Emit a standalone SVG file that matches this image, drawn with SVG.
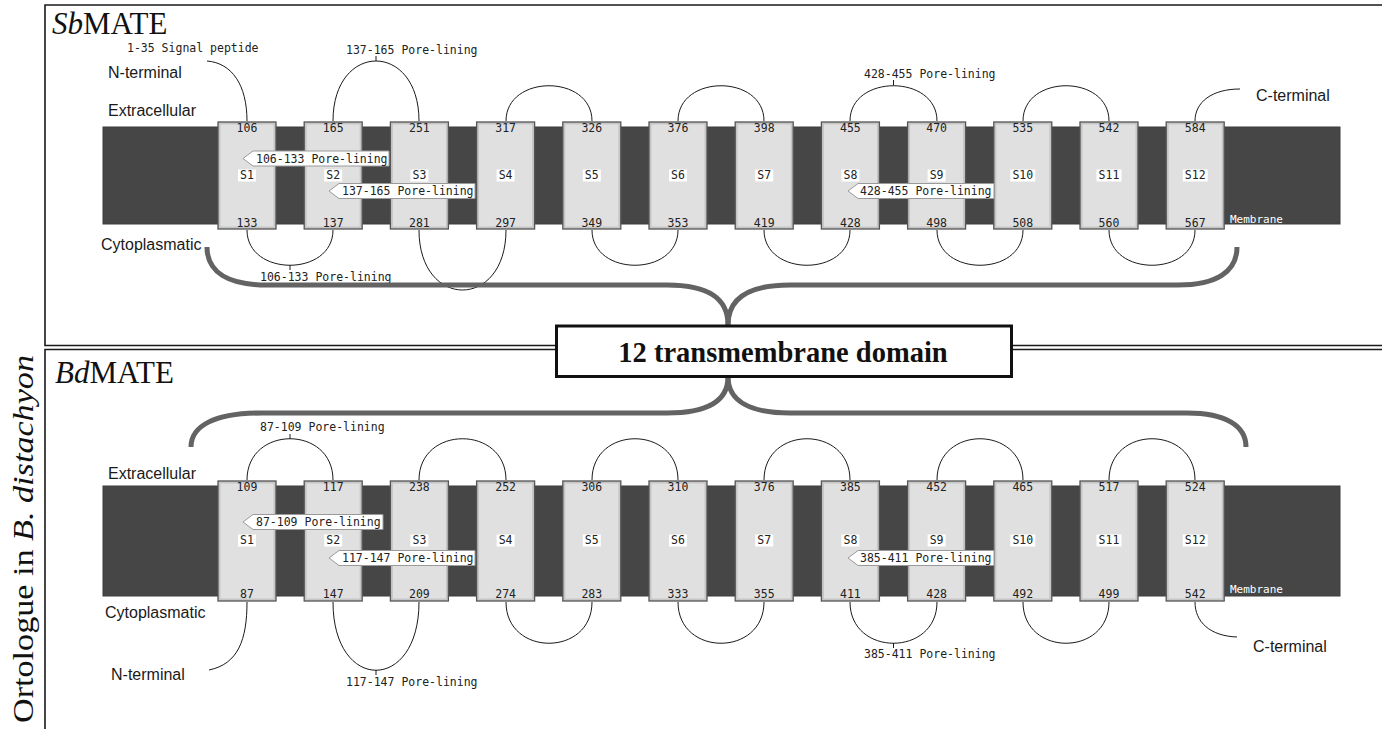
<svg xmlns="http://www.w3.org/2000/svg" width="1382" height="729" viewBox="0 0 1382 729">
<style>
.mono{font-family:"DejaVu Sans Mono","Liberation Mono",monospace;font-size:11.5px;fill:#222}
.num{text-anchor:middle}
.sans{font-family:"Liberation Sans",Arial,sans-serif;font-size:16px;fill:#1a1a1a}
.serif{font-family:"Liberation Serif","Times New Roman",serif;fill:#111}
.loop{fill:none;stroke:#1a1a1a;stroke-width:1}
.brace{fill:none;stroke:#636363;stroke-width:5}
.mem{fill:#464646;stroke:#3c3c3c;stroke-width:1}
.tmo{fill:#c6c6c6;stroke:#555;stroke-width:1.3}
.tmi{fill:#e0e0e0}
.flag{fill:#fff;stroke:#9a9a9a;stroke-width:1}
.slab{fill:#fff}
.frame{stroke:#1a1a1a;stroke-width:1.6;fill:none}
.memlab{font-family:"DejaVu Sans Mono","Liberation Mono",monospace;font-size:11px;fill:#fff}
</style>
<rect width="1382" height="729" fill="#fff"/>

<g id="frames">
<path class="frame" d="M1382,5 H45 V345.5 H1382"/>
<path class="frame" d="M1382,349.5 H45 V729"/>
</g>

<g id="titles">
<text class="serif" x="52" y="34" font-size="31"><tspan font-style="italic">Sb</tspan>MATE</text>
<text class="serif" x="55" y="383" font-size="31"><tspan font-style="italic">Bd</tspan>MATE</text>
<text class="serif" font-size="29" transform="translate(33,723) rotate(-90)" textLength="368" lengthAdjust="spacingAndGlyphs">Ortologue in <tspan font-style="italic">B. distachyon</tspan></text>
</g>

<!-- Top panel membrane -->
<g id="sb-membrane">
<rect class="mem" x="103" y="127" width="1237" height="97"/>
<text class="memlab" x="1230" y="222.5">Membrane</text>
</g>

<!-- Bottom panel membrane -->
<g id="bd-membrane">
<rect class="mem" x="103" y="486" width="1237" height="110"/>
<text class="memlab" x="1230" y="593">Membrane</text>
</g>

<!-- connectors: loops -->
<g id="connectors">
<!-- Sb extracellular -->
<path class="loop" d="M207,61 C232,63 247,85 247,121"/>
<path class="loop" d="M333,121 C333,41 419,41 419,121"/>
<path class="loop" d="M376,61 V56"/>
<path class="loop" d="M506,121 C506,74 592,74 592,121"/>
<path class="loop" d="M678,121 C678,74 764,74 764,121"/>
<path class="loop" d="M850,121 C850,74 937,74 937,121"/>
<path class="loop" d="M893.5,85.5 V80"/>
<path class="loop" d="M1023,121 C1023,74 1109,74 1109,121"/>
<path class="loop" d="M1195,121 C1195,102 1212,89 1240,89"/>
<!-- Sb cytoplasmic -->
<path class="loop" d="M247,230 C247,277 333,277 333,230"/>
<path class="loop" d="M290,265 V270"/>
<path class="loop" d="M419,230 C419,310 506,310 506,230"/>
<path class="loop" d="M592,230 C592,277 678,277 678,230"/>
<path class="loop" d="M764,230 C764,277 850,277 850,230"/>
<path class="loop" d="M937,230 C937,277 1023,277 1023,230"/>
<path class="loop" d="M1109,230 C1109,277 1195,277 1195,230"/>
<!-- Bd extracellular -->
<path class="loop" d="M247,480 C247,425 333,425 333,480"/>
<path class="loop" d="M290,439 V434"/>
<path class="loop" d="M419,480 C419,425 506,425 506,480"/>
<path class="loop" d="M592,480 C592,425 678,425 678,480"/>
<path class="loop" d="M764,480 C764,425 850,425 850,480"/>
<path class="loop" d="M937,480 C937,425 1023,425 1023,480"/>
<path class="loop" d="M1109,480 C1109,425 1195,425 1195,480"/>
<!-- Bd cytoplasmic -->
<path class="loop" d="M247,602 C247,640 238,664 209,670"/>
<path class="loop" d="M333,602 C333,693 419,693 419,602"/>
<path class="loop" d="M376,670 V675"/>
<path class="loop" d="M506,602 C506,657 592,657 592,602"/>
<path class="loop" d="M678,602 C678,657 764,657 764,602"/>
<path class="loop" d="M850,602 C850,657 937,657 937,602"/>
<path class="loop" d="M893.5,643 V648"/>
<path class="loop" d="M1023,602 C1023,657 1109,657 1109,602"/>
<path class="loop" d="M1195,602 C1195,622 1210,636 1237,637"/>
</g>

<!-- Sb TM segments -->
<g id="sb-S1"><rect class="tmo" x="218" y="122" width="58" height="107"/><rect class="tmi" x="220.5" y="124.5" width="53" height="102"/><rect class="slab" x="238" y="169.5" width="18" height="12"/><text class="mono num" x="247" y="179">S1</text><text class="mono num" x="247" y="132">106</text><text class="mono num" x="247" y="227">133</text></g>
<g id="sb-S2"><rect class="tmo" x="304.2" y="122" width="58" height="107"/><rect class="tmi" x="306.7" y="124.5" width="53" height="102"/><rect class="slab" x="324.2" y="169.5" width="18" height="12"/><text class="mono num" x="333.2" y="179">S2</text><text class="mono num" x="333.2" y="132">165</text><text class="mono num" x="333.2" y="227">137</text></g>
<g id="sb-S3"><rect class="tmo" x="390.4" y="122" width="58" height="107"/><rect class="tmi" x="392.9" y="124.5" width="53" height="102"/><rect class="slab" x="410.4" y="169.5" width="18" height="12"/><text class="mono num" x="419.4" y="179">S3</text><text class="mono num" x="419.4" y="132">251</text><text class="mono num" x="419.4" y="227">281</text></g>
<g id="sb-S4"><rect class="tmo" x="476.6" y="122" width="58" height="107"/><rect class="tmi" x="479.1" y="124.5" width="53" height="102"/><rect class="slab" x="496.6" y="169.5" width="18" height="12"/><text class="mono num" x="505.6" y="179">S4</text><text class="mono num" x="505.6" y="132">317</text><text class="mono num" x="505.6" y="227">297</text></g>
<g id="sb-S5"><rect class="tmo" x="562.8" y="122" width="58" height="107"/><rect class="tmi" x="565.3" y="124.5" width="53" height="102"/><rect class="slab" x="582.8" y="169.5" width="18" height="12"/><text class="mono num" x="591.8" y="179">S5</text><text class="mono num" x="591.8" y="132">326</text><text class="mono num" x="591.8" y="227">349</text></g>
<g id="sb-S6"><rect class="tmo" x="649" y="122" width="58" height="107"/><rect class="tmi" x="651.5" y="124.5" width="53" height="102"/><rect class="slab" x="669" y="169.5" width="18" height="12"/><text class="mono num" x="678" y="179">S6</text><text class="mono num" x="678" y="132">376</text><text class="mono num" x="678" y="227">353</text></g>
<g id="sb-S7"><rect class="tmo" x="735.2" y="122" width="58" height="107"/><rect class="tmi" x="737.7" y="124.5" width="53" height="102"/><rect class="slab" x="755.2" y="169.5" width="18" height="12"/><text class="mono num" x="764.2" y="179">S7</text><text class="mono num" x="764.2" y="132">398</text><text class="mono num" x="764.2" y="227">419</text></g>
<g id="sb-S8"><rect class="tmo" x="821.4" y="122" width="58" height="107"/><rect class="tmi" x="823.9" y="124.5" width="53" height="102"/><rect class="slab" x="841.4" y="169.5" width="18" height="12"/><text class="mono num" x="850.4" y="179">S8</text><text class="mono num" x="850.4" y="132">455</text><text class="mono num" x="850.4" y="227">428</text></g>
<g id="sb-S9"><rect class="tmo" x="907.6" y="122" width="58" height="107"/><rect class="tmi" x="910.1" y="124.5" width="53" height="102"/><rect class="slab" x="927.6" y="169.5" width="18" height="12"/><text class="mono num" x="936.6" y="179">S9</text><text class="mono num" x="936.6" y="132">470</text><text class="mono num" x="936.6" y="227">498</text></g>
<g id="sb-S10"><rect class="tmo" x="993.8" y="122" width="58" height="107"/><rect class="tmi" x="996.3" y="124.5" width="53" height="102"/><rect class="slab" x="1010.3" y="169.5" width="25" height="12"/><text class="mono num" x="1022.8" y="179">S10</text><text class="mono num" x="1022.8" y="132">535</text><text class="mono num" x="1022.8" y="227">508</text></g>
<g id="sb-S11"><rect class="tmo" x="1080" y="122" width="58" height="107"/><rect class="tmi" x="1082.5" y="124.5" width="53" height="102"/><rect class="slab" x="1096.5" y="169.5" width="25" height="12"/><text class="mono num" x="1109" y="179">S11</text><text class="mono num" x="1109" y="132">542</text><text class="mono num" x="1109" y="227">560</text></g>
<g id="sb-S12"><rect class="tmo" x="1166.2" y="122" width="58" height="107"/><rect class="tmi" x="1168.7" y="124.5" width="53" height="102"/><rect class="slab" x="1182.7" y="169.5" width="25" height="12"/><text class="mono num" x="1195.2" y="179">S12</text><text class="mono num" x="1195.2" y="132">584</text><text class="mono num" x="1195.2" y="227">567</text></g>

<!-- Bd TM segments -->
<g id="bd-S1"><rect class="tmo" x="218" y="481" width="58" height="120"/><rect class="tmi" x="220.5" y="483.5" width="53" height="115"/><rect class="slab" x="238" y="534.5" width="18" height="12"/><text class="mono num" x="247" y="544">S1</text><text class="mono num" x="247" y="491">109</text><text class="mono num" x="247" y="598">87</text></g>
<g id="bd-S2"><rect class="tmo" x="304.2" y="481" width="58" height="120"/><rect class="tmi" x="306.7" y="483.5" width="53" height="115"/><rect class="slab" x="324.2" y="534.5" width="18" height="12"/><text class="mono num" x="333.2" y="544">S2</text><text class="mono num" x="333.2" y="491">117</text><text class="mono num" x="333.2" y="598">147</text></g>
<g id="bd-S3"><rect class="tmo" x="390.4" y="481" width="58" height="120"/><rect class="tmi" x="392.9" y="483.5" width="53" height="115"/><rect class="slab" x="410.4" y="534.5" width="18" height="12"/><text class="mono num" x="419.4" y="544">S3</text><text class="mono num" x="419.4" y="491">238</text><text class="mono num" x="419.4" y="598">209</text></g>
<g id="bd-S4"><rect class="tmo" x="476.6" y="481" width="58" height="120"/><rect class="tmi" x="479.1" y="483.5" width="53" height="115"/><rect class="slab" x="496.6" y="534.5" width="18" height="12"/><text class="mono num" x="505.6" y="544">S4</text><text class="mono num" x="505.6" y="491">252</text><text class="mono num" x="505.6" y="598">274</text></g>
<g id="bd-S5"><rect class="tmo" x="562.8" y="481" width="58" height="120"/><rect class="tmi" x="565.3" y="483.5" width="53" height="115"/><rect class="slab" x="582.8" y="534.5" width="18" height="12"/><text class="mono num" x="591.8" y="544">S5</text><text class="mono num" x="591.8" y="491">306</text><text class="mono num" x="591.8" y="598">283</text></g>
<g id="bd-S6"><rect class="tmo" x="649" y="481" width="58" height="120"/><rect class="tmi" x="651.5" y="483.5" width="53" height="115"/><rect class="slab" x="669" y="534.5" width="18" height="12"/><text class="mono num" x="678" y="544">S6</text><text class="mono num" x="678" y="491">310</text><text class="mono num" x="678" y="598">333</text></g>
<g id="bd-S7"><rect class="tmo" x="735.2" y="481" width="58" height="120"/><rect class="tmi" x="737.7" y="483.5" width="53" height="115"/><rect class="slab" x="755.2" y="534.5" width="18" height="12"/><text class="mono num" x="764.2" y="544">S7</text><text class="mono num" x="764.2" y="491">376</text><text class="mono num" x="764.2" y="598">355</text></g>
<g id="bd-S8"><rect class="tmo" x="821.4" y="481" width="58" height="120"/><rect class="tmi" x="823.9" y="483.5" width="53" height="115"/><rect class="slab" x="841.4" y="534.5" width="18" height="12"/><text class="mono num" x="850.4" y="544">S8</text><text class="mono num" x="850.4" y="491">385</text><text class="mono num" x="850.4" y="598">411</text></g>
<g id="bd-S9"><rect class="tmo" x="907.6" y="481" width="58" height="120"/><rect class="tmi" x="910.1" y="483.5" width="53" height="115"/><rect class="slab" x="927.6" y="534.5" width="18" height="12"/><text class="mono num" x="936.6" y="544">S9</text><text class="mono num" x="936.6" y="491">452</text><text class="mono num" x="936.6" y="598">428</text></g>
<g id="bd-S10"><rect class="tmo" x="993.8" y="481" width="58" height="120"/><rect class="tmi" x="996.3" y="483.5" width="53" height="115"/><rect class="slab" x="1010.3" y="534.5" width="25" height="12"/><text class="mono num" x="1022.8" y="544">S10</text><text class="mono num" x="1022.8" y="491">465</text><text class="mono num" x="1022.8" y="598">492</text></g>
<g id="bd-S11"><rect class="tmo" x="1080" y="481" width="58" height="120"/><rect class="tmi" x="1082.5" y="483.5" width="53" height="115"/><rect class="slab" x="1096.5" y="534.5" width="25" height="12"/><text class="mono num" x="1109" y="544">S11</text><text class="mono num" x="1109" y="491">517</text><text class="mono num" x="1109" y="598">499</text></g>
<g id="bd-S12"><rect class="tmo" x="1166.2" y="481" width="58" height="120"/><rect class="tmi" x="1168.7" y="483.5" width="53" height="115"/><rect class="slab" x="1182.7" y="534.5" width="25" height="12"/><text class="mono num" x="1195.2" y="544">S12</text><text class="mono num" x="1195.2" y="491">524</text><text class="mono num" x="1195.2" y="598">542</text></g>

<!-- flags -->
<g id="sb-flags">
<polygon class="flag" points="243,158.5 253,151 389,151 389,166 253,166"/>
<text class="mono" x="256" y="162.5">106-133 Pore-lining</text>
<polygon class="flag" points="329,191 339,183.5 475,183.5 475,198.5 339,198.5"/>
<text class="mono" x="342" y="195">137-165 Pore-lining</text>
<polygon class="flag" points="848,191 858,183.5 994,183.5 994,198.5 858,198.5"/>
<text class="mono" x="860" y="195">428-455 Pore-lining</text>
</g>
<g id="bd-flags">
<polygon class="flag" points="243,522 253,514.5 383,514.5 383,529.5 253,529.5"/>
<text class="mono" x="256" y="526">87-109 Pore-lining</text>
<polygon class="flag" points="329,558 339,550.5 475,550.5 475,565.5 339,565.5"/>
<text class="mono" x="342" y="562">117-147 Pore-lining</text>
<polygon class="flag" points="848,558 858,550.5 994,550.5 994,565.5 858,565.5"/>
<text class="mono" x="860" y="562">385-411 Pore-lining</text>
</g>

<!-- labels -->
<g id="sb-labels">
<text class="mono" x="127" y="52">1-35 Signal peptide</text>
<text class="mono" x="346" y="54">137-165 Pore-lining</text>
<text class="mono" x="864" y="78">428-455 Pore-lining</text>
<text class="mono" x="260" y="281">106-133 Pore-lining</text>
<text class="sans" x="108" y="78">N-terminal</text>
<text class="sans" x="108" y="116">Extracellular</text>
<text class="sans" x="101" y="250" font-size="14.3">Cytoplasmatic</text>
<text class="sans" x="1256" y="101">C-terminal</text>
</g>
<g id="bd-labels">
<text class="mono" x="260" y="431">87-109 Pore-lining</text>
<text class="mono" x="346" y="686">117-147 Pore-lining</text>
<text class="mono" x="864" y="658">385-411 Pore-lining</text>
<text class="sans" x="108" y="479">Extracellular</text>
<text class="sans" x="105" y="618">Cytoplasmatic</text>
<text class="sans" x="111" y="680">N-terminal</text>
<text class="sans" x="1253" y="652">C-terminal</text>
</g>

<!-- braces -->
<g id="braces">
<path class="brace" d="M207,247 C207,272 228,285 267,285 L667,285 C705,285 728,296 728,325"/>
<path class="brace" d="M1237,247 C1237,272 1216,285 1178,285 L790,285 C752,285 728,296 728,325"/>
<path class="brace" d="M191,447 C191,426 214,413 262,413 L667,413 C705,413 728,402 728,377"/>
<path class="brace" d="M1246,447 C1246,426 1226,413 1187,413 L790,413 C752,413 728,402 728,377"/>
</g>

<g id="tm-domain">
<rect x="556.5" y="326" width="455" height="50.5" fill="#fff" stroke="#111" stroke-width="3"/>
<text class="serif" x="783" y="362" font-size="28.5" font-weight="bold" text-anchor="middle">12 transmembrane domain</text>
</g>
</svg>
